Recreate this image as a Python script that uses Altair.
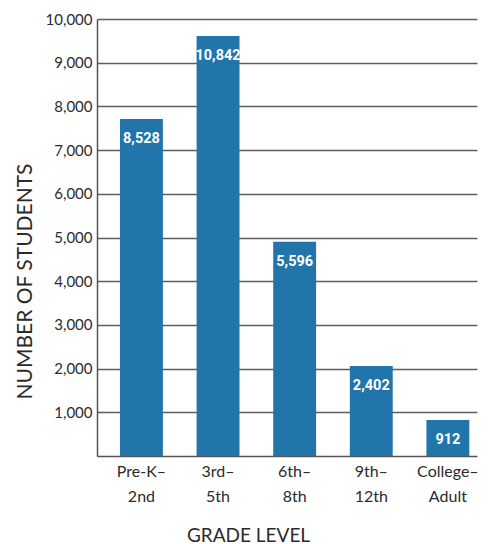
import altair as alt
import pandas as pd

line1 = ["Pre-K–", "3rd–", "6th–", "9th–", "College–"]
line2 = ["2nd", "5th", "8th", "12th", "Adult"]
bar_heights = [7710, 9610, 4900, 2060, 825]
labels = ["8,528", "10,842", "5,596", "2,402", "912"]
y_ticks = [1000, 2000, 3000, 4000, 5000, 6000, 7000, 8000, 9000, 10000]

cats = [a + "\n" + b for a, b in zip(line1, line2)]
df = pd.DataFrame({"grade": cats, "height": bar_heights, "label": labels})

FONT = "Lato"
TXT = "#2b2b2b"

x = alt.X(
    "grade:N",
    sort=cats,
    scale=alt.Scale(paddingInner=0.44, paddingOuter=0.2, align=0.75),
    axis=alt.Axis(
        title="GRADE LEVEL",
        labelAngle=0,
        labelExpr="split(datum.label, '\\n')",
        labelFont=FONT,
        labelFontSize=16,
        labelColor=TXT,
        labelLineHeight=25,
        labelPadding=15,
        labelBaseline="middle",
        ticks=False,
        domainColor="#555555",
        domainWidth=1.5,
        titleFont=FONT,
        titleFontSize=19,
        titleFontWeight="normal",
        titleColor=TXT,
        titleX=151,
        titleY=79,
        titleAlign="center",
        titleBaseline="middle",
        titleAnchor="start",
    ),
)

y = alt.Y(
    "height:Q",
    scale=alt.Scale(domain=[0, 10000], nice=False),
    axis=alt.Axis(
        title="NUMBER OF STUDENTS",
        values=y_ticks,
        format=",.0f",
        grid=True,
        gridColor="#5e5e5e",
        gridWidth=1.4,
        ticks=False,
        labelPadding=5,
        labelFont=FONT,
        labelFontSize=15,
        labelColor=TXT,
        domainColor="#555555",
        domainWidth=1.5,
        titleFont=FONT,
        titleFontSize=21,
        titleFontWeight="normal",
        titleColor=TXT,
        titleX=-72,
        titleY=262,
        titleAngle=-90,
        titleAlign="center",
        titleBaseline="middle",
        titleAnchor="start",
    ),
)

bars = alt.Chart(df).mark_bar(color="#2175AA").encode(x=x, y=y)

text = alt.Chart(df).mark_text(
    color="white",
    font="Roboto",
    fontSize=14.5,
    fontWeight="bold",
    baseline="middle",
    dy=20,
).encode(x=alt.X("grade:N", sort=cats), y=alt.Y("height:Q"), text="label:N")

chart = (
    alt.layer(bars, text)
    .properties(
        width=380,
        height=437,
        autosize=alt.AutoSizeParams(type="none"),
        padding={"left": 97, "top": 19, "right": 13, "bottom": 88},
        background="white",
    )
    .configure_view(stroke=None)
)

chart.save("out.html", embed_options={"renderer": "svg", "actions": False})
